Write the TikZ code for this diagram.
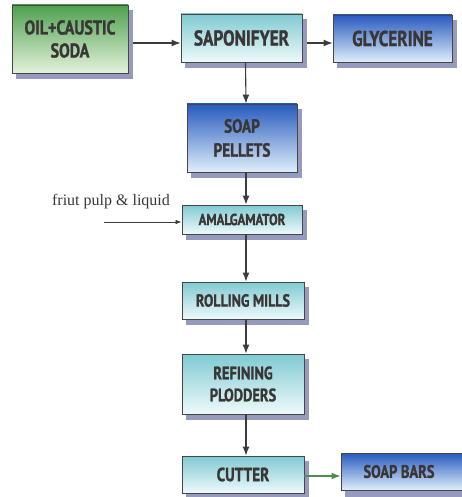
\documentclass[tikz,border=0pt]{standalone}
\usepackage{fontspec}
\setmainfont{Liberation Serif}
\newfontfamily\bx[FakeStretch=0.8,FakeBold=1.2]{PT Sans}
\usetikzlibrary{arrows.meta}
\definecolor{txt}{RGB}{58,54,54}
\definecolor{bord}{RGB}{70,70,70}
\definecolor{shd}{RGB}{150,154,190}
\definecolor{gtop}{RGB}{78,160,78}
\definecolor{gbot}{RGB}{228,242,220}
\definecolor{ctop}{RGB}{128,202,210}
\definecolor{cbot}{RGB}{238,250,250}
\definecolor{btop}{RGB}{40,90,190}
\definecolor{bmid}{RGB}{75,135,215}
\definecolor{bbot}{RGB}{222,238,250}
\definecolor{arr}{RGB}{60,60,60}
\tikzset{
  boxbase/.style={draw=bord, line width=0.9pt, align=center, inner sep=0pt,
    text=txt, font=\bx\bfseries},
  greenbox/.style={boxbase, top color=gtop, bottom color=gbot},
  cyanbox/.style={boxbase, top color=ctop, bottom color=cbot},
  bluebox/.style={boxbase, top color=btop, middle color=bmid, bottom color=bbot},
  shadowbox/.style={fill=shd, draw=none},
  flow/.style={draw=arr, line width=1.1pt, -{Latex[length=9pt,width=7pt]}},
  thinflow/.style={draw=arr, line width=0.7pt, -{Latex[length=6pt,width=4.5pt]}},
}
\begin{document}
\begin{tikzpicture}[x=1pt,y=-1pt]
\useasboundingbox (0,0) rectangle (461,497);
\fill[shadowbox] (16,10) rectangle (133,79);
\fill[shadowbox] (185,19) rectangle (307,68);
\fill[shadowbox] (337,20) rectangle (457,68);
\fill[shadowbox] (191,109) rectangle (302,178);
\fill[shadowbox] (186,210) rectangle (307,240);
\fill[shadowbox] (186,287) rectangle (309,325);
\fill[shadowbox] (186,359) rectangle (309,420);
\fill[shadowbox] (186,461) rectangle (309,499);
\fill[shadowbox] (345,458) rectangle (473,499);
\node[greenbox, minimum width=116pt, minimum height=68pt, font=\bx\bfseries\fontsize{20}{23}\selectfont] (oil) at (70,39) {OIL+CAUSTIC\\SODA};
\node[cyanbox, minimum width=121pt, minimum height=48pt, font=\bx\bfseries\fontsize{21.5}{23}\selectfont] (sap) at (241.5,38) {SAPONIFYER};
\node[bluebox, minimum width=119pt, minimum height=47pt, font=\bx\bfseries\fontsize{21.5}{23}\selectfont] (gly) at (392.5,38.5) {GLYCERINE};
\node[bluebox, minimum width=110pt, minimum height=68pt, font=\bx\bfseries\fontsize{19}{24}\selectfont] (pel) at (242,138) {SOAP\\PELLETS};
\node[cyanbox, minimum width=120pt, minimum height=29pt, font=\bx\bfseries\fontsize{16}{18}\selectfont] (amal) at (242,219.5) {AMALGAMATOR};
\node[cyanbox, minimum width=122pt, minimum height=37pt, font=\bx\bfseries\fontsize{17.5}{20}\selectfont] (roll) at (243,300.5) {ROLLING MILLS};
\node[cyanbox, minimum width=122pt, minimum height=60pt, font=\bx\bfseries\fontsize{18}{22}\selectfont] (ref) at (243,384) {REFINING\\PLODDERS};
\node[cyanbox, minimum width=122pt, minimum height=37pt, font=\bx\bfseries\fontsize{19}{20}\selectfont] (cut) at (243,474.5) {CUTTER};
\node[bluebox, minimum width=128pt, minimum height=37pt, font=\bx\bfseries\fontsize{18}{20}\selectfont] (bars) at (405,471.5) {\hspace*{-3pt}SOAP BARS\hspace*{9pt}};
\node[text=txt, font=\fontsize{16}{18}\selectfont, inner sep=0pt] (friut) at (111,202) {friut pulp \& liquid};
\coordinate (fin) at (104,222);
\draw[flow, shorten <=5pt] (oil.east |- 0,43) -- (sap.west |- 0,43);
\draw[flow, shorten <=5pt] (sap.east |- 0,43) -- (gly.west |- 0,43);
\draw[flow] ([xshift=4pt]sap.south) -- ([xshift=4pt]pel.north);
\draw[flow] ([xshift=4pt]pel.south) -- ([xshift=4pt]amal.north);
\draw[flow] ([xshift=4pt]amal.south) -- ([xshift=3pt]roll.north);
\draw[flow] ([xshift=3pt]roll.south) -- ([xshift=3pt]ref.north);
\draw[flow] ([xshift=3pt]ref.south) -- ([xshift=3pt]cut.north);
\draw[thinflow] (fin) -- (amal.west |- fin);
\draw[flow, draw={rgb,255:red,80;green,140;blue,80}] (cut.east |- 0,476) -- (bars.west |- 0,476);
\end{tikzpicture}
\end{document}
